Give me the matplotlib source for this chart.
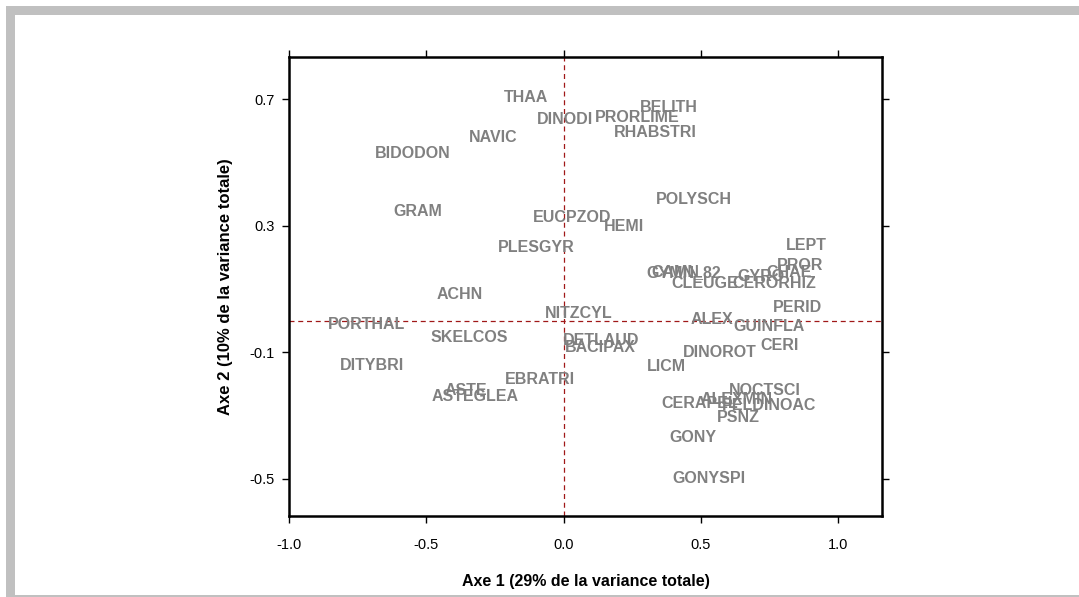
import matplotlib
matplotlib.use('Agg')
import matplotlib.pyplot as plt
from matplotlib.patches import Rectangle

# taxons et coordonnees sur les axes 1 et 2
labels = ['THAA', 'DINODI', 'PRORLIME', 'BELITH', 'RHABSTRI', 'NAVIC', 'BIDODON',
          'POLYSCH', 'GRAM', 'EUCPZOD', 'HEMI', 'PLESGYR', 'LEPT', 'PROR',
          'GYMN_82', 'CAMN', 'CLEUGE', 'GYRO', 'CHAE', 'CERORHIZ', 'PERID',
          'ACHN', 'NITZCYL', 'ALEX', 'GUINFLA', 'PORTHAL', 'SKELCOS', 'DETLAUD',
          'BACIPAX', 'CERI', 'DINOROT', 'LICM', 'DITYBRI', 'EBRATRI', 'ASTE',
          'ASTEGLEA', 'NOCTSCI', 'ALEXMIN', 'CERAPEL', 'PELDINOAC', 'PSNZ',
          'GONY', 'GONYSPI']
axe1 = [-0.138, 0.007, 0.270, 0.383, 0.335, -0.255, -0.550,
        0.474, -0.532, 0.033, 0.222, -0.098, 0.885, 0.860,
        0.437, 0.408, 0.514, 0.720, 0.823, 0.769, 0.852,
        -0.379, 0.055, 0.539, 0.747, -0.718, -0.342, 0.138,
        0.135, 0.787, 0.568, 0.375, -0.699, -0.087, -0.357,
        -0.321, 0.732, 0.630, 0.495, 0.750, 0.638,
        0.470, 0.528]
axe2 = [0.706, 0.637, 0.643, 0.672, 0.593, 0.578, 0.529,
        0.384, 0.346, 0.327, 0.296, 0.230, 0.239, 0.173,
        0.151, 0.151, 0.119, 0.141, 0.151, 0.119, 0.043,
        0.084, 0.024, 0.005, -0.017, -0.011, -0.052, -0.064,
        -0.086, -0.077, -0.102, -0.146, -0.143, -0.187, -0.222,
        -0.241, -0.222, -0.250, -0.263, -0.269, -0.307,
        -0.370, -0.497]

xticks = [-1.0, -0.5, 0.0, 0.5, 1.0]
yticks = [0.7, 0.3, -0.1, -0.5]

plt.rcParams['font.family'] = ['Liberation Sans', 'DejaVu Sans']

fig = plt.figure(figsize=(10.79, 5.97), dpi=100)

# cadre gris
gray = '#c0c0c0'
W, H = 1079, 597
fig.add_artist(Rectangle((6 / W, 1 - 15 / H), 1 - 6 / W, 9 / H, transform=fig.transFigure,
                         facecolor=gray, edgecolor='none'))
fig.add_artist(Rectangle((6 / W, 0), 9 / W, 1 - 6 / H, transform=fig.transFigure,
                         facecolor=gray, edgecolor='none'))
fig.add_artist(Rectangle((6 / W, 0), 1 - 6 / W, 2 / H, transform=fig.transFigure,
                         facecolor=gray, edgecolor='none'))

ax = fig.add_axes([289 / W, 1 - 516 / H, (882 - 289) / W, (516 - 57) / H])

ax.axhline(0, color='#a01818', linestyle=(0, (4, 3)), linewidth=0.9, zorder=1)
ax.axvline(0, color='#a01818', linestyle=(0, (4, 3)), linewidth=0.9, zorder=1)

for lab, x, y in zip(labels, axe1, axe2):
    ax.text(x, y, lab, ha='center', va='center', color='#808080',
            fontsize=11.5, fontweight='bold', zorder=3)

ax.set_xlim(-1.0, 1.16)
ax.set_ylim(-0.617, 0.833)
ax.set_xticks(xticks)
ax.set_xticklabels([f'{v:.1f}' for v in xticks], fontsize=10.5)
ax.set_yticks(yticks)
ax.set_yticklabels([f'{v:.1f}' for v in yticks], fontsize=10.5)

ax.tick_params(direction='out', length=5, width=1, top=True, right=True,
               labeltop=False, labelright=False)
ax.tick_params(axis='x', pad=11)
ax.tick_params(axis='y', pad=5)
for s in ax.spines.values():
    s.set_linewidth(1.8)

ax.set_xlabel('Axe 1 (29% de la variance totale)', fontsize=11.5,
              fontweight='bold', labelpad=16)
ax.set_ylabel('Axe 2 (10% de la variance totale)', fontsize=12,
              fontweight='bold', labelpad=12)

fig.savefig('out.png', dpi=100)
